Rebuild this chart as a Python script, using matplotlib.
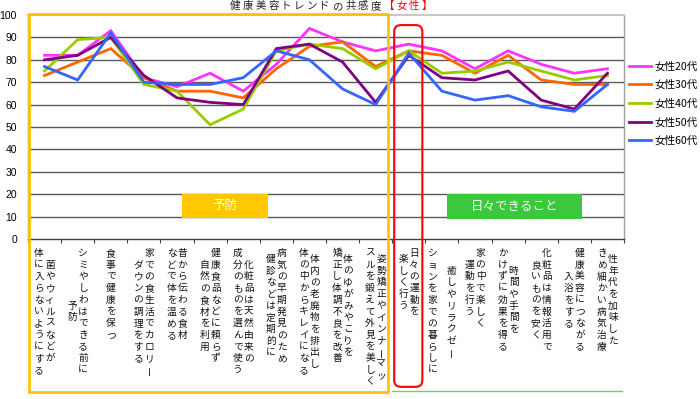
import matplotlib
matplotlib.use("Agg")
import matplotlib.pyplot as plt
import matplotlib.transforms as mtransforms
from matplotlib.patches import Rectangle, FancyBboxPatch
from matplotlib.lines import Line2D
import numpy as np

plt.rcParams['font.family'] = ['Noto Sans CJK JP', 'DejaVu Sans']

# ---------------- data ----------------
categories = [
    ["菌やウィルスなどが", "体に入らないようにする"],
    ["シミやしわはできる前に", "予防"],
    ["食事で健康を保つ"],
    ["家での食生活でカロリー", "ダウンの調理をする"],
    ["昔から伝わる食材", "などで体を温める"],
    ["健康食品などに頼らず", "自然の食材を利用"],
    ["化粧品は天然由来の", "成分のものを選んで使う"],
    ["病気の早期発見のため", "健診などは定期的に"],
    ["体内の老廃物を排出し", "体の中からキレイになる"],
    ["体のゆがみやこりを", "矯正し体調不良を改善"],
    ["姿勢矯正やインナーマッ", "スルを鍛えて外見を美しく"],
    ["日々の運動を", "楽しく行う"],
    ["癒しやリラクゼー", "ションを家での暮らしに"],
    ["家の中で楽しく", "運動を行う"],
    ["時間や手間を", "かけずに効果を得る"],
    ["化粧品は情報活用で", "良いものを安く"],
    ["健康美容につながる", "入浴をする"],
    ["性年代を加味した", "きめ細かい病気治療"],
]

series_names = ["女性20代", "女性30代", "女性40代", "女性50代", "女性60代"]
women_20s = [82, 82, 93, 72, 68, 74, 66, 78, 94, 88, 84, 87, 84, 76, 84, 78, 74, 76]
women_30s = [73, 79, 85, 72, 66, 66, 63, 76, 86, 88, 77, 84, 82, 74, 82, 71, 69, 69]
women_40s = [75, 89, 90, 69, 66, 51, 58, 84, 87, 85, 76, 84, 74, 75, 79, 75, 71, 73]
women_50s = [80, 82, 90, 73, 63, 61, 60, 85, 87, 79, 61, 82, 72, 71, 75, 62, 58, 74]
women_60s = [77, 71, 92, 70, 69, 69, 72, 84, 80, 67, 60, 83, 66, 62, 64, 59, 57, 69]

y_ticks = [0, 10, 20, 30, 40, 50, 60, 70, 80, 90, 100]
title_main = "健康美容トレンドの共感度"
title_red = "【女性】"
group_labels = ["予防", "日々できること"]

# ---------------- figure ----------------
W, H = 700, 399
fig = plt.figure(figsize=(W / 100, H / 100), dpi=100)
fig.patch.set_facecolor("white")
ax = fig.add_axes([28 / W, 1 - 239 / H, 596 / W, 224 / H])

colors = ["#FF33FF", "#FF6600", "#99CC00", "#800080", "#3366FF"]
all_series = [women_20s, women_30s, women_40s, women_50s, women_60s]
x = np.arange(len(categories))
for vals, c, name in zip(all_series, colors, series_names):
    ax.plot(x, vals, color=c, lw=2.0, label=name, solid_joinstyle="miter", zorder=3)

ax.set_xlim(-0.5, len(categories) - 0.5)
ax.set_ylim(0, 100)
ax.set_yticks(y_ticks)
ax.set_yticklabels([str(v) for v in y_ticks], family="Liberation Sans", fontsize=7.5)
ax.tick_params(axis="y", length=0, pad=8)
ax.set_xticks(np.arange(-0.5, len(categories), 1.0))
ax.set_xticklabels([])
ax.tick_params(axis="x", direction="out", length=3, width=0.8, color="#404040")
for v in y_ticks[1:-1]:
    ax.axhline(v, color="#5a5a5a", lw=1.0, zorder=1)
for side, col, lw in [("top", "#C8C8C8", 1.5), ("right", "#A0A0A0", 1.0),
                      ("bottom", "#404040", 1.0), ("left", "#A0A0A0", 1.0)]:
    ax.spines[side].set_color(col)
    ax.spines[side].set_linewidth(lw)

# group boxes
yellow = Rectangle((-0.46, -68.3), 10.84, 168.8, fill=False, edgecolor="#FFC000",
                   lw=1.9, clip_on=False, zorder=4)
ax.add_patch(yellow)
red = FancyBboxPatch((10.56, -66), 0.85, 161.5,
                     boxstyle="round,pad=0,rounding_size=0.2",
                     mutation_aspect=33.1 / 2.24, fill=False, edgecolor="#FF0000",
                     lw=1.5, clip_on=False, zorder=4)
ax.add_patch(red)
ax.add_line(Line2D([10.5, 17.45], [-67.9, -67.9], color="#70D070", lw=1.0,
                   clip_on=False, zorder=4))

ax.add_patch(Rectangle((4.15, 9.4), 2.6, 10.7, facecolor="#FFC800", edgecolor="none", zorder=2))
ax.text(5.45, 14.75, group_labels[0], color="white", fontsize=9, ha="center", va="center", zorder=5)
ax.add_patch(Rectangle((12.16, 8.9), 4.08, 11.2, facecolor="#3CC83C", edgecolor="none", zorder=2))
ax.text(14.2, 14.5, group_labels[1], color="white", fontsize=9, ha="center", va="center", zorder=5)

# vertical category labels
pitch = 11.7
top = 253
base = mtransforms.blended_transform_factory(ax.transData, fig.transFigure)
for i, lines in enumerate(categories):
    L = max(len(s) for s in lines)
    n = len(lines)
    gap = 19 if i == 12 else 11
    for j, s in enumerate(lines):
        dx_px = ((n - 1) / 2 - j) * gap
        off = (L - len(s)) / 2
        tr = base + mtransforms.ScaledTranslation(dx_px / 100, 0, fig.dpi_scale_trans)
        for k, ch in enumerate(s):
            y_px = top + (off + k) * pitch
            rot = 90 if ch == "ー" else 0
            ax.text(i, 1 - y_px / H, ch, transform=tr, ha="center", va="center",
                    fontsize=7, rotation=rot, color="#111111")

# title (letter-spaced)
tx = 235
for k, ch in enumerate(title_main + title_red):
    fig.text((tx + k * 12.8) / W, 1 - 6 / H, ch, ha="center", va="center", fontsize=7.5,
             color="#222222" if k < len(title_main) else "#FF0000")

# legend
ax.legend(loc="upper left", bbox_to_anchor=(629 / W, 1 - 61 / H), bbox_transform=fig.transFigure,
          frameon=False, fontsize=7.6, handlelength=2.1, handletextpad=0.3,
          labelspacing=0.8, borderpad=0, borderaxespad=0)

fig.savefig("out.png", dpi=100)
